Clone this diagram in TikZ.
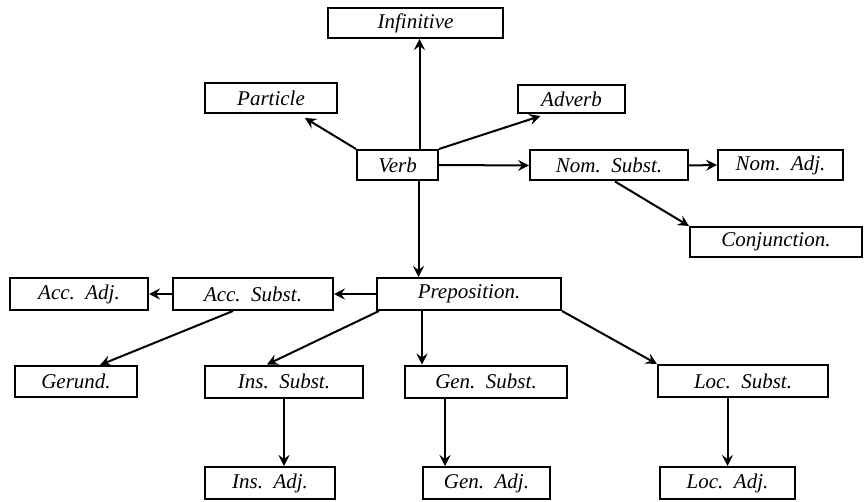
\documentclass[tikz,border=0pt]{standalone}
\usepackage{fontspec}
\setmainfont{Liberation Serif}
\usepackage{tikz}
\usetikzlibrary{arrows.meta}

\begin{document}
\begin{tikzpicture}[x=1pt, y=-1pt,
    wordbox/.style={draw, line width=2pt, minimum height=30pt, inner sep=0pt, font=\fontsize{21}{24}\selectfont\itshape},
    link/.style={-{Stealth[length=11pt, width=11pt, inset=4pt]}, line width=2pt}]
    \useasboundingbox (0,0) rectangle (864,502);

    % Verb and its neighbours
    \node[wordbox, minimum width=175pt] (inf) at (415.5,23) {Infinitive};
    \node[wordbox, minimum width=132pt] (part) at (271,98) {Particle};
    \node[wordbox, minimum width=107pt, minimum height=28pt] (adv) at (571.5,99) {Adverb};
    \node[wordbox, minimum width=81pt] (verb) at (397.5,165) {Verb};
    \node[wordbox, minimum width=158pt] (nomS) at (609,165.5) {Nom.\ \ Subst.};
    \node[wordbox, minimum width=125pt] (nomA) at (780.5,165) {Nom.\ \ Adj.};
    \node[wordbox, minimum width=172pt] (conj) at (776,242) {Conjunction.};

    % Preposition row
    \node[wordbox, minimum width=138pt, minimum height=32pt] (accA) at (79,294) {Acc.\ \ Adj.};
    \node[wordbox, minimum width=160pt, minimum height=32pt] (accS) at (253,294) {Acc.\ \ Subst.};
    \node[wordbox, minimum width=184pt, minimum height=32pt] (prep) at (469,294) {Preposition.};

    % Cases
    \node[wordbox, minimum width=122pt, minimum height=31pt] (ger) at (76,381.5) {Gerund.};
    \node[wordbox, minimum width=158pt, minimum height=32pt] (insS) at (284,381.5) {Ins.\ \ Subst.};
    \node[wordbox, minimum width=162pt, minimum height=32pt] (genS) at (486,381.5) {Gen.\ \ Subst.};
    \node[wordbox, minimum width=170pt, minimum height=32pt] (locS) at (743,381) {Loc.\ \ Subst.};

    % Adjectives
    \node[wordbox, minimum width=130pt, minimum height=32pt] (insA) at (270,483) {Ins.\ \ Adj.};
    \node[wordbox, minimum width=127pt, minimum height=32pt] (genA) at (486.5,483) {Gen.\ \ Adj.};
    \node[wordbox, minimum width=135pt, minimum height=32pt] (locA) at (727.5,483) {Loc.\ \ Adj.};

    % Arrows from Verb
    \draw[link] ([xshift=4pt]inf.south |- verb.north) -- ([xshift=4pt]inf.south);
    \draw[link] (verb.north west) -- ([xshift=34pt, yshift=-4pt]part.south);
    \draw[link] (verb.north east) -- ([xshift=-31pt, yshift=-2pt]adv.south);
    \draw[link] (verb.east) -- (nomS.west);
    \draw[link] (nomS.east) -- (nomA.west);
    \draw[link] ([xshift=6pt]nomS.south) -- (conj.north west);
    \draw[link] ([xshift=21pt]verb.south) -- ([xshift=21pt]verb.south |- prep.north);

    % Arrows from Preposition
    \draw[link] (prep.west) -- (accS.east);
    \draw[link] (accS.west) -- (accA.east);
    \draw[link] ([xshift=-20pt]accS.south) -- ([xshift=24pt]ger.north);
    \draw[link] ([xshift=3pt]prep.south west) -- ([xshift=-17pt]insS.north);
    \draw[link] ([xshift=-47pt]prep.south) -- ([xshift=-47pt]prep.south |- genS.north);
    \draw[link] (prep.south east) -- (locS.north west);

    % Down to the adjectives
    \draw[link] (insS.south) -- (insS.south |- insA.north);
    \draw[link] ([xshift=-41pt]genS.south) -- ([xshift=-41pt]genS.south |- genA.north);
    \draw[link] (locA.north |- locS.south) -- (locA.north);

\end{tikzpicture}
\end{document}
